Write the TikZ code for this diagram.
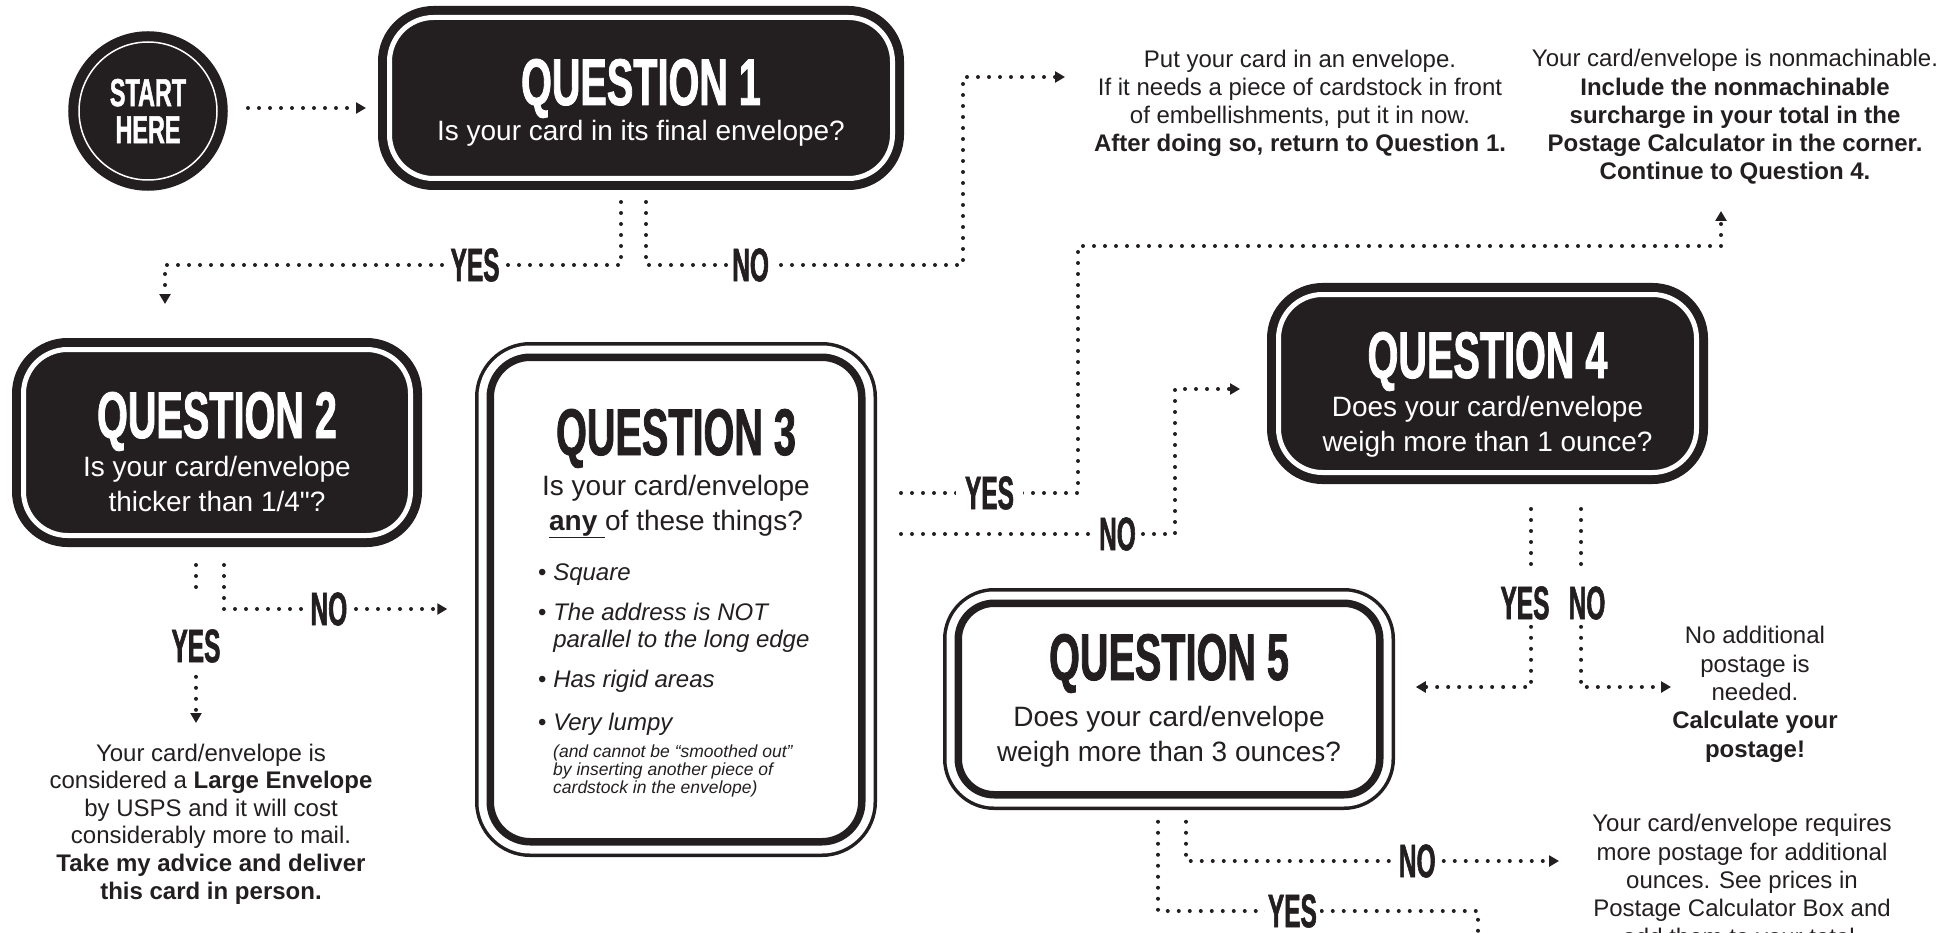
\documentclass[tikz,border=0pt]{standalone}
\usepackage{fontspec}
\setmainfont{Liberation Sans}
\newfontfamily\headfont[FakeStretch=0.6, FakeBold=1.2]{Liberation Sans}
\newfontfamily\tagfont[FakeStretch=0.52, FakeBold=1.2]{Liberation Sans}
\usetikzlibrary{arrows.meta}
\definecolor{ink}{RGB}{35,31,32}
\tikzset{
	darkbox/.style={rectangle, rounded corners=44pt, fill=ink, draw=ink, double=white, double distance=5pt, line width=9pt, inner sep=0pt, outer sep=0pt},
	lightbox/.style={rectangle, rounded corners=36pt, fill=white, draw=ink, line width=7.5pt, inner sep=0pt, outer sep=0pt, preaction={draw=ink, line width=30.5pt}, preaction={draw=white, line width=23.5pt}},
	qtitle/.style={font=\headfont\bfseries\fontsize{66}{66}\selectfont, inner sep=0pt, anchor=base},
	qsub/.style={font=\fontsize{28}{35}\selectfont, inner sep=0pt, anchor=base, align=center},
	body/.style={font=\fontsize{24}{28.3}\selectfont, text=ink, inner sep=0pt, anchor=base, align=center},
	item/.style={font=\itshape\fontsize{24}{27}\selectfont, text=ink, inner sep=0pt, anchor=base west, align=left},
	tag/.style={font=\tagfont\bfseries\fontsize{47}{47}\selectfont, text=ink, fill=white, inner sep=3pt},
	dotline/.style={draw=ink, line width=4pt, line cap=round, dash pattern=on 0pt off 11pt},
	flow/.style={dotline, -{Triangle[length=10pt, width=11pt]}}
}

\begin{document}
\begin{tikzpicture}[x=1pt, y=-1pt]
	\useasboundingbox (0,0) rectangle (1948,933);

	% start
	\node[circle, minimum size=138pt, fill=ink, draw=ink, double=white, double distance=1.5pt, line width=10pt, inner sep=0pt, outer sep=0pt, text=white, align=center, font=\headfont\bfseries\fontsize{39}{37}\selectfont] (start) at (148,111) {START\\HERE};

	% question boxes
	\node[darkbox, minimum width=503pt, minimum height=161pt] (q1) at (641,98) {};
	\node[darkbox, minimum width=387pt, minimum height=186pt] (q2) at (217,442.5) {};
	\node[lightbox, minimum width=371.5pt, minimum height=484.5pt, rounded corners=40pt] (q3) at (676,599.5) {};
	\node[darkbox, minimum width=418pt, minimum height=178pt] (q4) at (1487.5,383.5) {};
	\node[lightbox, minimum width=421.5pt, minimum height=191.5pt] (q5) at (1169,699) {};

	% box texts (base = last line)
	\node[qtitle, text=white] (q1t) at (641,105) {QUESTION 1};
	\node[qsub, text=white] (q1s) at (641,141) {Is your card in its final envelope?};
	\node[qtitle, text=white] (q2t) at (217,438) {QUESTION 2};
	\node[qsub, text=white] (q2s) at (217,511) {Is your card/envelope\\thicker than 1/4\textquotedbl?};
	\node[qtitle, text=ink] (q3t) at (676,455) {QUESTION 3};
	\node[qsub, text=ink] (q3s) at (676,530) {Is your card/envelope\\\underline{\textbf{any}\ }of these things?};
	\node[qtitle, text=white] (q4t) at (1487.5,378) {QUESTION 4};
	\node[qsub, text=white] (q4s) at (1487.5,451) {Does your card/envelope\\weigh more than 1 ounce?};
	\node[qtitle, text=ink] (q5t) at (1169,680) {QUESTION 5};
	\node[qsub, text=ink] (q5s) at (1169,761) {Does your card/envelope\\weigh more than 3 ounces?};

	% question 3 list
	\node[item] (q3a) at (538,580) {\upshape•\ \itshape Square};
	\node[item] (q3b) at (538,647) {\upshape•\ \itshape The address is NOT\\\phantom{•\ }parallel to the long edge};
	\node[item] (q3c) at (538,687) {\upshape•\ \itshape Has rigid areas};
	\node[item] (q3d) at (538,730) {\upshape•\ \itshape Very lumpy};
	\node[item, font=\itshape\fontsize{17.5}{18}\selectfont] (q3e) at (553,793) {(and cannot be “smoothed out”\\by inserting another piece of\\cardstock in the envelope)};

	% answers
	\node[body] (putin) at (1300,152) {Put your card in an envelope.\\If it needs a piece of cardstock in front\\of embellishments, put it in now.\\\textbf{After doing so, return to Question 1.}};
	\node[body] (nonmach) at (1735,180) {Your card/envelope is nonmachinable.\\\textbf{Include the nonmachinable}\\\textbf{surcharge in your total in the}\\\textbf{Postage Calculator in the corner.}\\\textbf{Continue to Question 4.}};
	\node[body, font=\fontsize{24}{27.6}\selectfont] (large) at (211,899) {Your card/envelope is\\considered a \textbf{Large Envelope}\\by USPS and it will cost\\considerably more to mail.\\\textbf{Take my advice and deliver}\\\textbf{this card in person.}};
	\node[body] (nopost) at (1755,757) {No additional\\postage is\\needed.\\\textbf{Calculate your}\\\textbf{postage!}};
	\node[body] (more) at (1742,945) {Your card/envelope requires\\more postage for additional\\ounces. See prices in\\Postage Calculator Box and\\add them to your total.};

	% arrow ends
	\coordinate (puttip) at (1065,77);
	\coordinate (nmtip) at (1721,211);
	\coordinate (largetip) at (196,723);
	\coordinate (nopostip) at (1671,687);
	\coordinate (moretip) at (1559,861);
	\coordinate (offtip) at (1478,961);

	% start to question 1
	\draw[flow] ([xshift=31pt,yshift=3pt]start.east) -- ([xshift=-23.5pt,yshift=-10pt]q1.west);

	% question 1
	\draw[flow] ([xshift=-20pt,yshift=-23.5pt]q1.south) -- ++(0,63) -| node[tag, pos=0.16] (q1yes) {YES} ([xshift=-52pt,yshift=45.5pt]q2.north);
	\draw[flow] ([xshift=5pt,yshift=-23.5pt]q1.south) -- ++(0,63) -- node[tag, pos=0.33] (q1no) {NO} ++(317,0) |- (puttip);

	% question 2
	\node[tag] (q2yes) at (196,646) {YES};
	\draw[dotline] ([xshift=-21pt,yshift=-29.5pt]q2.south) -- ([yshift=30pt]q2yes.north);
	\draw[flow] ([yshift=-11pt]q2yes.south) -- (largetip);
	\draw[flow] ([xshift=7pt,yshift=-29.5pt]q2.south) |- node[tag, pos=0.735] (q2no) {NO} ([xshift=-43pt,yshift=-9.5pt]q3.west);

	% question 3
	\draw[flow] ([xshift=39.25pt,yshift=106.5pt]q3.east) -- node[tag, inner xsep=9pt] (q3yes) {YES} ++(177,0) |- ([yshift=-35pt]nmtip) -- (nmtip);
	\draw[flow] ([xshift=39.25pt,yshift=65.5pt]q3.east) -- node[tag, pos=0.79] (q3no) {NO} ++(274,0) |- ([xshift=-38.5pt,yshift=-5.5pt]q4.west);

	% question 4
	\node[tag, fill=none] (q4yes) at (1525,603) {YES};
	\node[tag, fill=none] (q4no) at (1587,603) {NO};
	\draw[dotline] ([xshift=43.5pt,yshift=-36.5pt]q4.south) -- ([xshift=6pt,yshift=12pt]q4yes.north);
	\draw[flow] ([xshift=6pt,yshift=-4pt]q4yes.south) |- ([xshift=36pt,yshift=12pt]q5.east);
	\draw[dotline] ([xshift=93.5pt,yshift=-36.5pt]q4.south) -- ([xshift=-6pt,yshift=12pt]q4no.north);
	\draw[flow] ([xshift=-6pt,yshift=-4pt]q4no.south) |- (nopostip);

	% question 5
	\draw[flow] ([xshift=17pt,yshift=-27pt]q5.south) |- node[tag, pos=0.81] (q5no) {NO} (moretip);
	\draw[flow] ([xshift=-11pt,yshift=-27pt]q5.south) |- node[tag, pos=0.71] (q5yes) {YES} ([yshift=50pt]offtip) -- (offtip);

\end{tikzpicture}
\end{document}
